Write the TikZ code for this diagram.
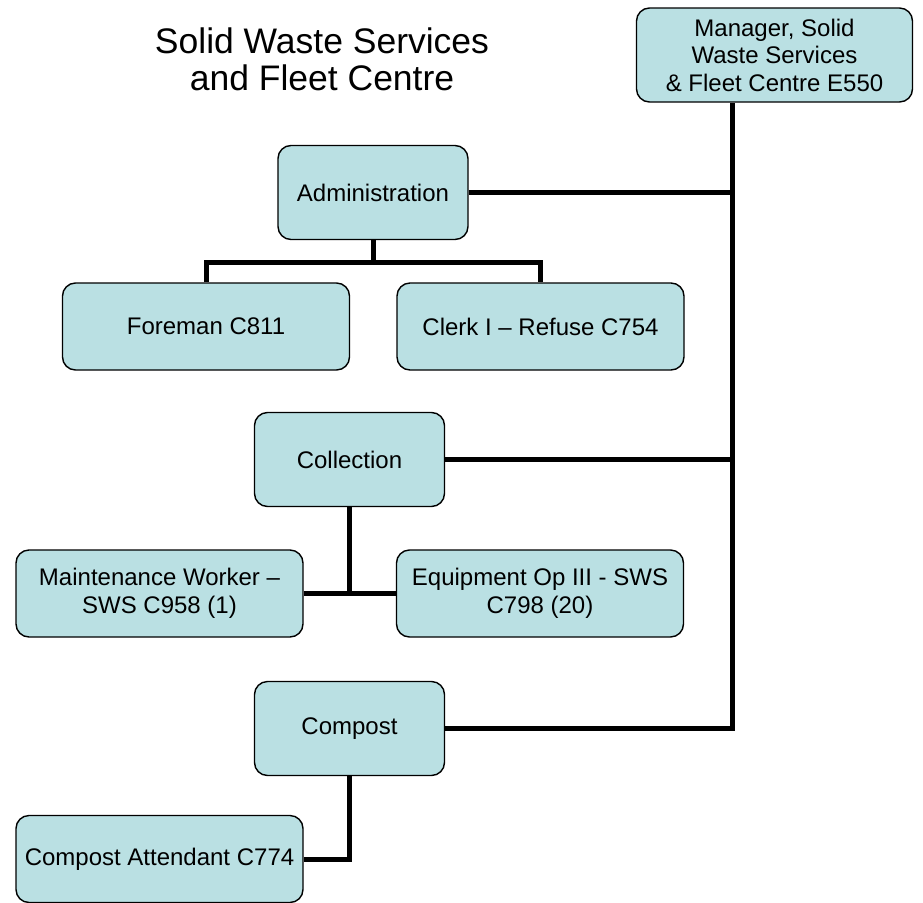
\documentclass[tikz,border=0pt]{standalone}
\usepackage{fontspec}
\setmainfont{Liberation Sans}
\definecolor{boxfill}{RGB}{186,224,227}
\begin{document}
\begin{tikzpicture}[x=1pt, y=-1pt,
    unit/.style={draw=black, line width=1.4pt, fill=boxfill, rounded corners=13pt, align=center, inner sep=0pt, font=\fontsize{24}{27.5}\selectfont},
    head/.style={unit, minimum width=190pt, minimum height=94pt},
    post/.style={unit, minimum width=287pt, minimum height=87pt},
    link/.style={line width=5pt}]
    \useasboundingbox (0,0) rectangle (923,902);
    \node[align=center, font=\fontsize{35.5}{37}\selectfont] (title) at (322,59) {Solid Waste Services\\and Fleet Centre};
    \node[unit, minimum width=276pt, minimum height=94pt] (mgr) at (774.5,55) {Manager, Solid\\Waste Services\\\& Fleet Centre E550};

    \node[head] (admin) at (373,192.5) {Administration};
    \node[post] (foreman) at (206,326.5) {Foreman C811};
    \node[post] (clerk) at (540.5,326.5) {Clerk I -- Refuse C754};

    \node[head] (collect) at (349.5,459.5) {Collection};
    \node[post] (maint) at (159.5,593.5) {Maintenance Worker --\\SWS C958 (1)};
    \node[post] (equip) at (540,593.5) {Equipment Op III - SWS\\C798 (20)};

    \node[head] (compost) at (349.5,728.5) {Compost};
    \node[post] (attend) at (159.5,859) {Compost Attendant C774};

    % reporting lines
    \coordinate (trunk) at (732,728.5);
    \coordinate (abus) at (373,262);
    \draw[link] (compost.east) -- (trunk) -- (mgr.south -| trunk);
    \draw[link] (admin.east) -- (admin.east -| trunk);
    \draw[link] (collect.east) -- (collect.east -| trunk);
    \draw[link] (admin) -- (abus);
    \draw[link] (foreman.north) |- (abus) -| (clerk.north);
    \draw[link] (collect) -- (collect.south |- maint.east);
    \draw[link] (maint.east) -- (equip.west);
    \draw[link] (compost) |- (attend.east);
\end{tikzpicture}
\end{document}
